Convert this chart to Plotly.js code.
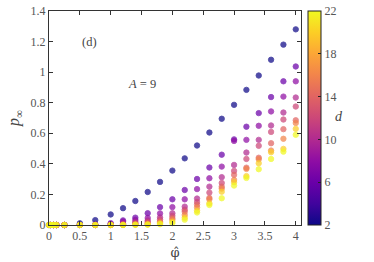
<!DOCTYPE html>
<html>
<head>
<meta charset="utf-8">
<script src="https://cdn.plot.ly/plotly-3.0.1.min.js"></script>
<style>html,body{margin:0;padding:0;background:#fff;}#chart{width:374px;height:262px;}</style>
</head>
<body>
<div id="chart"></div>
<script>
const phi = [0,0.03,0.07,0.12,0.25,0.5,0.75,1.0,1.2,1.4,1.6,1.8,2.0,2.2,2.4,2.6,2.8,3.0,3.2,3.4,3.6,3.8,4.0];
const dValues = [2, 6, 8, 10, 12, 14, 16, 20, 22];
const p_s1 = [0,0,0,0,0,0.011,0.032,0.069,0.110,0.157,0.216,0.282,0.356,0.436,0.520,0.605,0.695,0.786,0.884,0.978,1.081,1.180,1.280];
const p_s2 = [0,0,0,0,0,0.002,0.004,0.012,0.030,0.048,0.077,0.117,0.168,0.229,0.301,0.376,0.460,0.560,0.643,0.732,0.837,0.940,1.037];
const p_s3 = [0,0,0,0,0,0,0.002,0.006,0.022,0.033,0.046,0.076,0.117,0.168,0.235,0.306,0.382,0.550,0.557,0.649,0.743,0.840,0.940];
const p_s4 = [0,0,0,0,0,0,0,0.003,0.010,0.020,0.030,0.050,0.077,0.120,0.173,0.251,0.313,0.393,0.474,0.557,0.651,0.736,0.834];
const p_s5 = [0,0,0,0,0,0,0,0.001,0.006,0.012,0.020,0.036,0.060,0.100,0.150,0.212,0.275,0.354,0.432,0.518,0.609,0.690,0.775];
const p_s6 = [0,0,0,0,0,0,0,0,0.003,0.007,0.012,0.024,0.045,0.087,0.133,0.177,0.251,0.328,0.375,0.440,0.535,0.627,0.685];
const p_s7 = [0,0,0,0,0,0,0,0,0.001,0.004,0.007,0.016,0.035,0.066,0.115,0.168,0.238,0.295,0.367,0.430,0.487,0.564,0.667];
const p_s8 = [0,0,0,0,0,0,0,0,0,0.002,0.004,0.010,0.022,0.048,0.094,0.142,0.218,0.280,0.320,0.404,0.476,0.498,0.629];
const p_s9 = [0,0,0,0,0,0,0,0,0,0.001,0.002,0.005,0.012,0.035,0.082,0.131,0.175,0.258,0.308,0.365,0.432,0.480,0.590];
const series = [p_s1,p_s2,p_s3,p_s4,p_s5,p_s6,p_s7,p_s8,p_s9];
const xTicks = [0,0.5,1,1.5,2,2.5,3,3.5,4];
const yTicks = [0,0.2,0.4,0.6,0.8,1,1.2,1.4];
const cTicks = [2,6,10,14,18,22];

const plasma = [
  [0.0,'#0d0887'],[0.1,'#41049d'],[0.2,'#6a00a8'],[0.3,'#8f0da4'],[0.4,'#b12a90'],
  [0.5,'#cc4778'],[0.6,'#e16462'],[0.7,'#f2844b'],[0.8,'#fca636'],[0.9,'#fcce25'],[1.0,'#f0f921']
];

const FONT = 'Liberation Serif, DejaVu Serif, serif';
const traces = series.map((ys, i) => ({
  type: 'scatter', mode: 'markers',
  x: phi, y: ys,
  cliponaxis: false,
  showlegend: false,
  hoverinfo: 'skip',
  marker: {
    size: 5.4,
    color: ys.map(() => dValues[i]),
    colorscale: plasma, cmin: 2, cmax: 22,
    opacity: 0.72,
    line: {width: 0.9, color: ys.map(() => dValues[i]), colorscale: plasma, cmin: 2, cmax: 22},
    showscale: i === 0,
    colorbar: i === 0 ? {
      x: 1.027, xanchor: 'left', xpad: 0, y: 0.5, yanchor: 'middle', ypad: 0,
      len: 1, lenmode: 'fraction', thickness: 13,
      outlinewidth: 1, outlinecolor: '#222',
      tickmode: 'array', tickvals: cTicks,
      ticks: 'inside', ticklen: 3, tickcolor: '#222',
      tickfont: {family: FONT, size: 12, color: '#555'}
    } : undefined
  }
}));

const axisCommon = {
  showgrid: false, zeroline: false,
  showline: true, mirror: 'allticks', linecolor: '#333', linewidth: 1,
  ticks: 'inside', ticklen: 4, tickcolor: '#333', tickwidth: 1,
  tickfont: {family: FONT, size: 12, color: '#555'}
};

const layout = {
  width: 374, height: 262,
  margin: {l: 49, r: 73, t: 11, b: 37, pad: 0},
  paper_bgcolor: '#fff', plot_bgcolor: '#fff',
  font: {family: FONT, color: '#444'},
  xaxis: Object.assign({}, axisCommon, {
    range: [0, 4.085], tickmode: 'array', tickvals: xTicks,
    title: {text: 'φ̂', font: {family: 'DejaVu Serif, serif', size: 13, color: '#444'}, standoff: 5}
  }),
  yaxis: Object.assign({}, axisCommon, {
    range: [0, 1.4], tickmode: 'array', tickvals: yTicks,
    title: {text: '<i>p</i><sub>∞</sub>', font: {family: FONT, size: 16, color: '#444'}, standoff: 6}
  }),
  annotations: [
    {xref: 'paper', yref: 'paper', x: 0.123, y: 0.898, text: '(d)', showarrow: false,
     font: {family: FONT, size: 12.5, color: '#444'}},
    {xref: 'paper', yref: 'paper', x: 0.369, y: 0.702, text: '<i>A</i> = 9', showarrow: false,
     font: {family: FONT, size: 12.5, color: '#444'}},
    {xref: 'paper', yref: 'paper', x: 1.175, y: 0.505, text: '<i>d</i>', showarrow: false,
     font: {family: FONT, size: 14, color: '#444'}}
  ]
};

Plotly.newPlot('chart', traces, layout, {displayModeBar: false, staticPlot: true});
</script>
</body>
</html>
